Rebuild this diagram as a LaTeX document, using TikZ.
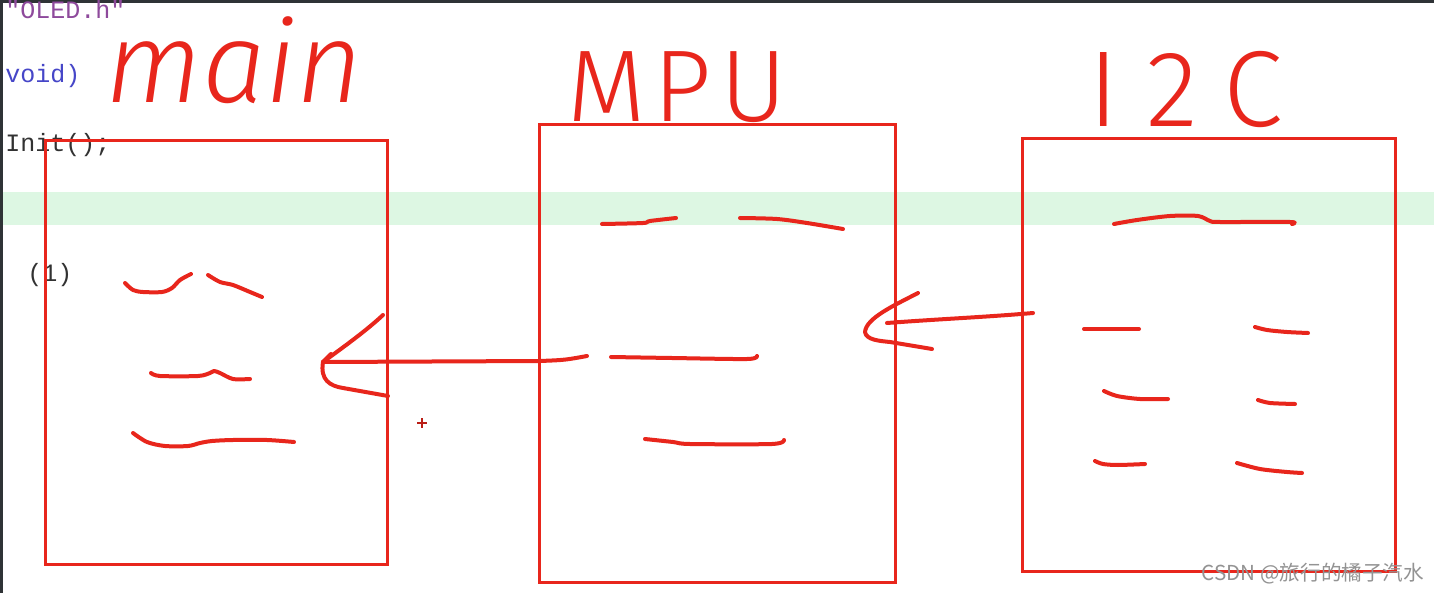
\documentclass[tikz,border=0pt]{standalone}
\usepackage{fontspec}
\setmainfont{Liberation Sans}
\newfontfamily\codefont{Liberation Mono}
\newfontfamily\handfont{Fira Sans}[UprightFont=* Light, ItalicFont=* Light Italic]
\newfontfamily\cjkfont{Noto Sans CJK SC}
\definecolor{handred}{RGB}{232,38,28}
\definecolor{codepurple}{RGB}{142,74,156}
\definecolor{codeblue}{RGB}{70,70,200}
\definecolor{codeblack}{RGB}{50,50,50}
\definecolor{lineband}{RGB}{221,247,227}
\definecolor{framedark}{RGB}{47,51,54}
\tikzset{
  box/.style={draw=handred, line width=1.5pt, inner sep=0pt},
  pen/.style={draw=handred, line width=2pt, line cap=round, line join=round},
  code/.style={font=\codefont\fontsize{12.5}{14}\selectfont, anchor=base west, inner sep=0pt},
  title/.style={text=handred, anchor=base, inner sep=0pt}
}
\begin{document}
\begin{tikzpicture}[x=0.5pt, y=-0.5pt]
\useasboundingbox (0,0) rectangle (1434,593);
\fill[white] (0,0) rectangle (1434,593);
% editor behind the sketch
\fill[lineband] (3,192) rectangle (1434,225);
\fill[framedark] (0,0) rectangle (1434,3);
\fill[framedark] (0,0) rectangle (3,593);
\node[code, text=codepurple] (inc) at (5,19) {"OLED.h"};
\node[code, text=codeblue] (sig) at (5,83) {void)};
\node[code, text=codeblack] (call) at (5,152) {Init();};
\node[code, text=codeblack] (arg) at (27,281) {(1)};
% the three blocks
\node[box, minimum width=171pt, minimum height=211.5pt] (main) at (216,352.5) {};
\node[box, minimum width=178pt, minimum height=228.5pt] (mpu) at (717,353.5) {};
\node[box, minimum width=186.5pt, minimum height=216pt] (i2c) at (1208.5,355) {};
\node[title, font=\handfont\itshape\fontsize{57}{57}\selectfont, text height=20pt] (mainlbl) at (234,103) {main};
\node[title, font=\handfont\fontsize{51}{51}\selectfont\addfontfeatures{LetterSpace=8}] (mpulbl) at (677,122) {MPU};
\node[title, font=\handfont\fontsize{54}{54}\selectfont\addfontfeatures{LetterSpace=25}] (i2clbl) at (1186,127) {I2C};
% scribbles in main
\draw[pen] plot[smooth] coordinates {(125,283) (133,290) (143,292) (162,292) (172,288) (180,280) (191,274)};
\draw[pen] plot[smooth] coordinates {(208,275) (220,282) (233,285) (250,292) (262,297)};
\draw[pen] plot[smooth] coordinates {(151,373) (160,376) (198,376) (210,373) (214,371) (220,373) (233,379) (250,379)};
\draw[pen] plot[smooth] coordinates {(133,433) (147,442) (165,446) (188,446) (200,443) (212,441) (233,440) (267,440) (294,442)};
% scribbles in MPU
\draw[pen] plot[smooth] coordinates {(602,224) (643,223) (650,221) (676,218)};
\draw[pen] plot[smooth] coordinates {(740,218) (777,219) (807,223) (843,229)};
\draw[pen] plot[smooth] coordinates {(611,357) (672,358) (747,359) (757,356)};
\draw[pen] plot[smooth] coordinates {(645,439) (673,442) (690,444) (772,444) (784,440)};
% scribbles in I2C
\draw[pen] plot[smooth] coordinates {(1114,224) (1137,220) (1170,216) (1198,216) (1210,221) (1220,222) (1290,222) (1292,224)};
\draw[pen] (1084,329) -- (1139,329);
\draw[pen] plot[smooth] coordinates {(1255,327) (1267,330) (1287,332) (1308,333)};
\draw[pen] plot[smooth] coordinates {(1104,391) (1117,396) (1140,399) (1168,399)};
\draw[pen] plot[smooth] coordinates {(1258,400) (1270,403) (1295,404)};
\draw[pen] plot[smooth] coordinates {(1095,461) (1103,464) (1118,465) (1145,464)};
\draw[pen] plot[smooth] coordinates {(1237,463) (1260,469) (1287,472) (1302,473)};
% arrows
\coordinate (mpuOut) at (587,356);
\coordinate (mainTip) at (323,362);
\coordinate (i2cOut) at (1033,313);
\coordinate (mpuTip) at (887,323);
\draw[pen] (mpuOut) .. controls (565,360) .. (540,361) -- (mainTip);
\draw[pen] (mainTip) -- (331,354);
\draw[pen] (mainTip) .. controls (345,346) and (367,330) .. (383,315);
\draw[pen] (mainTip) .. controls (320,380) and (330,386) .. (343,388) -- (388,396);
\draw[pen] (i2cOut) .. controls (987,317) and (940,319) .. (mpuTip);
\draw[pen] (918,293) .. controls (895,305) and (866,318) .. (865,332)
  .. controls (866,340) and (880,341) .. (890,342) -- (932,349);
% cursor mark
\draw[handred!80!black, line width=1pt] (417,423) -- (427,423) (422,418) -- (422,428);
% watermark
\node[text=gray!85, font=\cjkfont\fontsize{10.3}{12}\selectfont, inner sep=0pt] (mark) at (1313,574) {CSDN @旅行的橘子汽水};
\end{tikzpicture}
\end{document}
